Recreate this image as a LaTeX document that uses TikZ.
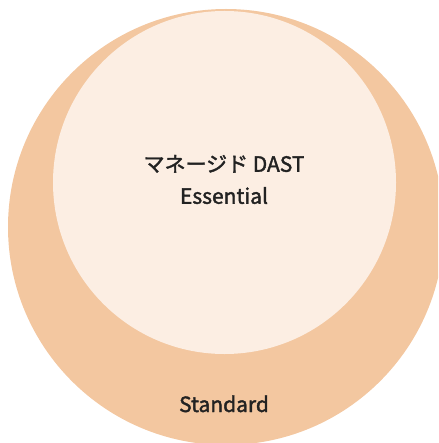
\documentclass[tikz,border=0pt]{standalone}
\usepackage{fontspec}
\setmainfont{Noto Sans CJK JP}[FakeBold=1.8]
\definecolor{outerc}{HTML}{F3C7A0}
\definecolor{innerc}{HTML}{FCEEE3}
\definecolor{textc}{HTML}{222222}
\tikzset{
  lbl/.style={text=textc, font=\fontsize{21}{32}\selectfont, align=center, inner sep=0pt},
}
\begin{document}
\begin{tikzpicture}[x=1pt,y=-1pt]
\useasboundingbox (0,0) rectangle (438,443);
\begin{scope}
\clip (0,0) rectangle (438,443);
\fill[outerc] (226,227) circle (218);
\fill[innerc] (224.5,182.5) circle (171.5);
\end{scope}
\node[lbl] (inner) at (224,179.5) {マネージド DAST\\Essential};
\node[lbl, anchor=base] (outer) at (224,412) {Standard};
\end{tikzpicture}
\end{document}
